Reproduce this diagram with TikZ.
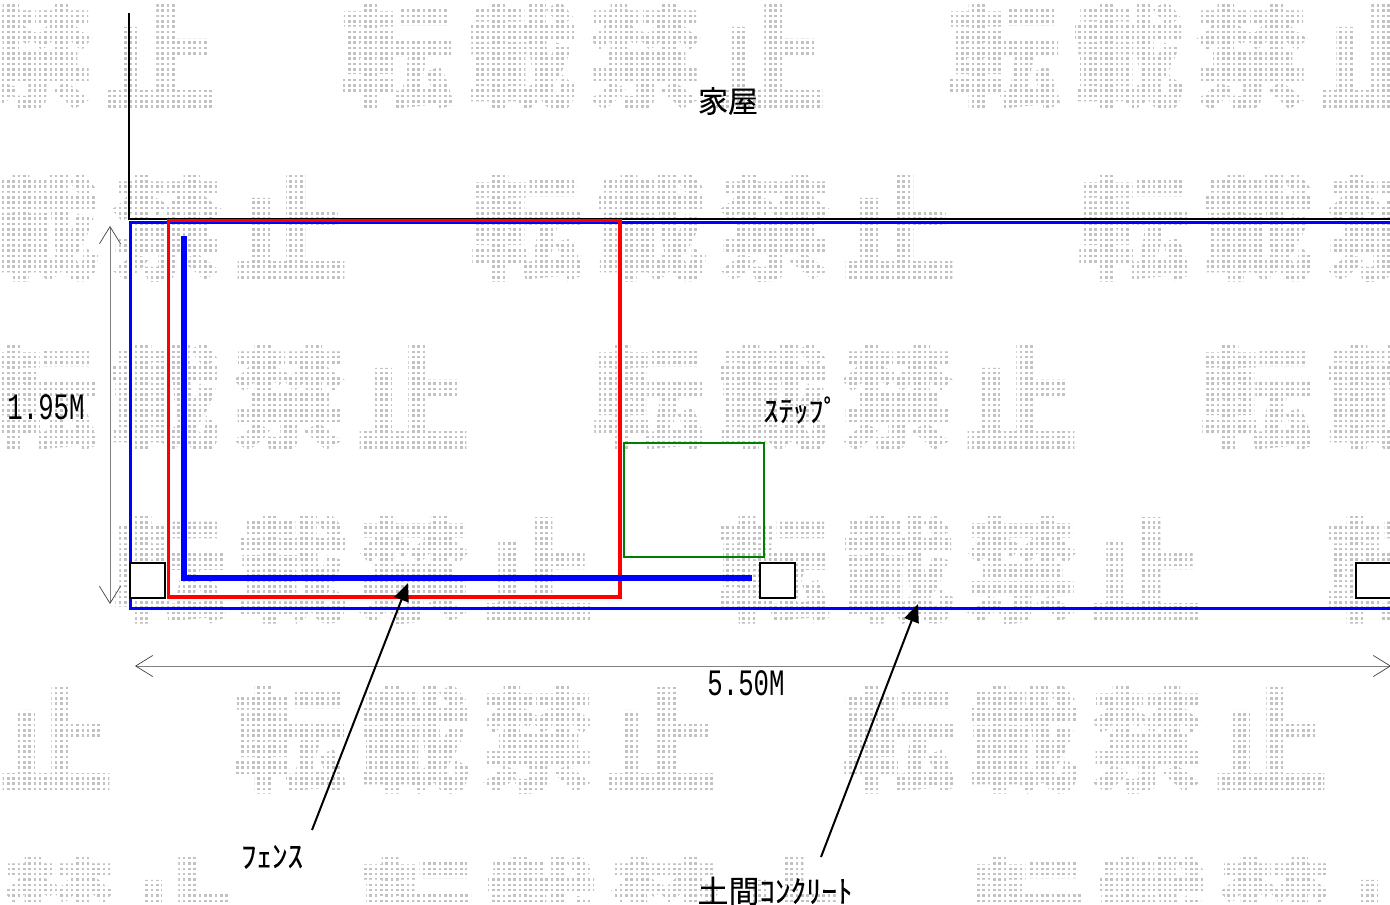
\documentclass[tikz,border=0pt]{standalone}
\usepackage{fontspec}
\usetikzlibrary{arrows.meta}
\setmainfont{Liberation Sans}
\newfontfamily\jp[FakeBold=0.25]{Noto Sans CJK JP}
\newfontfamily\jpwm[BoldFeatures={FakeBold=1.0}]{Noto Sans CJK JP}
\newfontfamily\lat{Liberation Mono}
\definecolor{wmgray}{gray}{0.76}
\tikzset{
  wm/.style={inner sep=0pt,outer sep=0pt,text=wmgray,font=\jpwm\bfseries\fontsize{114}{114}\selectfont},
  lbl/.style={inner sep=0pt,outer sep=0pt,text=black,font=\jp\fontsize{31}{31}\selectfont},
  dimlbl/.style={inner sep=0pt,outer sep=0pt,text=black,font=\lat\fontsize{25.7}{26}\selectfont},
  post/.style={draw=black,line width=2pt,fill=white,minimum width=35pt,minimum height=35pt,inner sep=0pt,outer sep=0pt},
  dimline/.style={draw=black!50,line width=1pt,{Straight Barb[length=17pt,width=21pt,line width=.7pt,color=black!75]}-{Straight Barb[length=17pt,width=21pt,line width=.7pt,color=black!75]}},
  leader/.style={draw=black,line width=2pt,-{Triangle[length=18pt,width=15pt]}},
}
\newcommand{\wmline}[2]{%
  \foreach \xx/\cc in {#2} {\node[wm] (wm-#1-\xx) at (\xx+52,#1) {\cc};}%
}
\begin{document}
\begin{tikzpicture}[x=1pt,y=-1pt]
\useasboundingbox (0,0) rectangle (1390,905);
\begin{scope}
\clip (0,0) rectangle (1390,905);
\fill[white] (0,0) rectangle (1390,905);
% watermark
\wmline{56}{-15/禁,109/止,345/転,469/載,593/禁,717/止,952/転,1076/載,1200/禁,1324/止}
\wmline{227}{-9/載,115/禁,239/止,475/転,599/載,723/禁,847/止,1082/転,1206/載,1330/禁}
\wmline{397}{-11/転,113/載,237/禁,361/止,597/転,721/載,845/禁,969/止,1205/転,1329/載}
\wmline{569}{118/転,240/載,362/禁,486/止,722/転,846/載,970/禁,1094/止,1330/転}
\wmline{739}{4/止,238/転,362/載,486/禁,610/止,847/転,971/載,1095/禁,1219/止}
\wmline{909}{7/禁,131/止,365/転,489/載,613/禁,737/止,975/転,1099/載,1223/禁,1347/止}
% white screen turning the watermark into dots
\foreach \k in {0,...,261} {\draw[white,line width=2.7pt] ({5.33*\k+0.2},0) -- ({5.33*\k+0.2},905);}
\foreach \k in {0,...,170} {\draw[white,line width=2.7pt] (0,{5.33*\k+2.7}) -- (1390,{5.33*\k+2.7});}

% house line
\coordinate (hTop) at (129,13);
\coordinate (hCorner) at (129,219);
\coordinate (hEnd) at (1392,219);
\draw[black,line width=2pt,line join=miter] (hTop) -- (hCorner) -- (hEnd);
% concrete outline
\coordinate (cA) at (1392,222.5);
\coordinate (cB) at (130,222.5);
\coordinate (cC) at (130,608);
\coordinate (cD) at (1392,608);
\draw[blue,line width=3pt] (cA) -- (cB) -- (cC) -- (cD);
% posts
\node[post] (post1) at (147,580) {};
\node[post] (post2) at (777.5,580) {};
\node[post] (post3) at (1373,580) {};
% red fence
\coordinate (rA) at (168.5,220.5);
\coordinate (rB) at (620,220.5);
\coordinate (rC) at (620,597);
\coordinate (rD) at (168.5,597);
\draw[red,line width=3.8pt] (rA) -- (rB) -- (rC) -- (rD) -- cycle;
% thick blue fence
\coordinate (fA) at (184,236);
\coordinate (fB) at (184,577.5);
\coordinate (fC) at (752,577.5);
\draw[blue,line width=6pt,line join=miter] (fA) -- (fB) -- (fC);
% step
\node[draw=green!50!black,line width=1.7pt,minimum width=140pt,minimum height=114pt,inner sep=0pt,outer sep=0pt] (stepbox) at (694,500) {};
% dimensions
\coordinate (dV1) at (110,226);
\coordinate (dV2) at (110,604);
\draw[dimline] (dV1) -- (dV2);
\coordinate (dH1) at (135,666);
\coordinate (dH2) at (1391,666);
\draw[dimline] (dH1) -- (dH2);
% labels
\node[lbl,font=\jp\fontsize{30}{30}\selectfont] (house) at (728,101) {家屋};
\node[lbl,font=\jp\fontsize{30}{30}\selectfont] (stepl) at (801,410) {ｽﾃｯﾌﾟ};
\node[lbl] (fence) at (272,857) {ﾌｪﾝｽ};
\node[lbl] (doma) at (775,891) {土間ｺﾝｸﾘｰﾄ};
\node[dimlbl] (h195) at (46,407) {\scalebox{1}[1.45]{1.95M}};
\node[dimlbl] (w550) at (746,683) {\scalebox{1}[1.45]{5.50M}};
% leaders
\coordinate (t1s) at (312,830);
\coordinate (t1e) at (408,583);
\draw[leader] (t1s) -- (t1e);
\coordinate (t2s) at (821,857);
\coordinate (t2e) at (918,604);
\draw[leader] (t2s) -- (t2e);
\end{scope}
\end{tikzpicture}
\end{document}
